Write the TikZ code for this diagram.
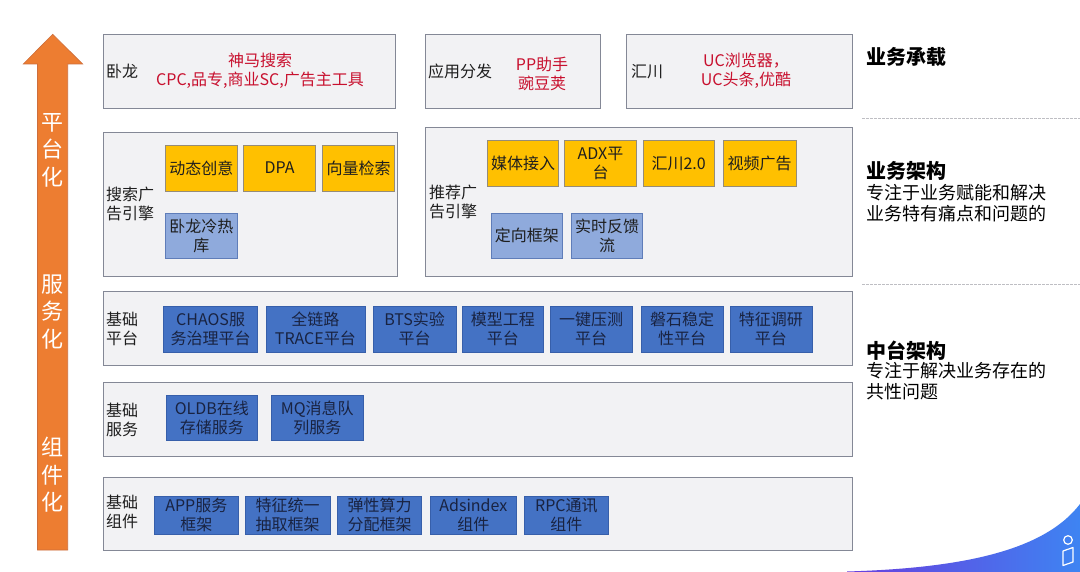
\documentclass[tikz,border=0pt]{standalone}
\usepackage{fontspec}
\setmainfont{Noto Sans CJK SC}
\definecolor{gfill}{RGB}{242,242,244}
\definecolor{gborder}{RGB}{132,136,150}
\definecolor{yel}{RGB}{255,192,0}
\definecolor{yelb}{RGB}{150,140,120}
\definecolor{dblue}{RGB}{68,114,196}
\definecolor{dblueb}{RGB}{55,95,170}
\definecolor{lblue}{RGB}{143,170,220}
\definecolor{lblueb}{RGB}{95,125,185}
\definecolor{redt}{RGB}{200,16,46}
\definecolor{txt}{RGB}{30,30,30}
\definecolor{navy}{RGB}{25,35,65}
\definecolor{orng}{RGB}{237,125,49}
\definecolor{orngb}{RGB}{205,110,60}
\definecolor{dashc}{RGB}{190,190,195}
\definecolor{swl}{RGB}{104,62,222}
\definecolor{swr}{RGB}{62,132,242}
\begin{document}
\begin{tikzpicture}[x=1pt,y=-1pt,
  cont/.style={draw=gborder, fill=gfill, line width=0.8pt, inner sep=0pt},
  ybox/.style={draw=yelb, fill=yel, line width=0.6pt, inner sep=1pt, align=center, text=txt, font=\fontsize{16}{19}\selectfont},
  lbbox/.style={draw=lblueb, fill=lblue, line width=0.6pt, inner sep=1pt, align=center, text=txt, font=\fontsize{16}{19}\selectfont},
  dbbox/.style={draw=dblueb, fill=dblue, line width=0.6pt, inner sep=1pt, align=center, text=navy, font=\fontsize{16}{19}\selectfont},
  lab/.style={anchor=west, inner sep=0pt, align=left, text=txt, font=\fontsize{16}{19}\selectfont},
  redtxt/.style={inner sep=0pt, align=center, text=redt, font=\fontsize{16}{19}\selectfont},
  arrtxt/.style={inner sep=0pt, align=center, text=white, font=\fontsize{22}{27.5}\selectfont},
  head/.style={anchor=west, inner sep=0pt, text=black, font=\fontsize{20}{24}\selectfont\bfseries},
  desc/.style={anchor=north west, inner sep=0pt, align=left, text=black, font=\fontsize{18}{21.5}\selectfont},
  sepline/.style={dashc, line width=1pt, dash pattern=on 2.5pt off 1.5pt}]
\useasboundingbox (0,0) rectangle (1080,572);
\fill[white] (0,0) rectangle (1080,572);

% left arrow
\filldraw[fill=orng, draw=orngb, line width=0.6pt]
  (52.7,34.3) -- (82.7,64) -- (67.7,64) -- (67.7,550) -- (37.5,550) -- (37.5,64) -- (23.3,64) -- cycle;
\node[arrtxt] (t1) at (52.7,150) {平\\台\\化};
\node[arrtxt] (t2) at (52.7,312) {服\\务\\化};
\node[arrtxt] (t3) at (52.7,475) {组\\件\\化};

% row 1
\node[cont, minimum width=292pt, minimum height=74pt] (A) at (249,71) {};
\node[cont, minimum width=175pt, minimum height=74pt] (B) at (512.5,71) {};
\node[cont, minimum width=226pt, minimum height=74pt] (C) at (739,71) {};
\node[lab] (Al) at (106,71.5) {卧龙};
\node[lab] (Bl) at (428,71.5) {应用分发};
\node[lab] (Cl) at (631,71.5) {汇川};
\node[redtxt] (Ar) at (260,71) {神马搜索\\CPC,品专,商业SC,广告主工具};
\node[redtxt] (Br) at (542,73.5) {PP助手\\豌豆荚};
\node[redtxt] (Cr) at (746,70.5) {UC浏览器，\\UC头条,优酷};

% row 2
\node[cont, minimum width=294pt, minimum height=144pt] (D) at (250,204) {};
\node[cont, minimum width=427pt, minimum height=149pt] (E) at (638.5,201.5) {};
\node[lab] (Dl) at (106,203.5) {搜索广\\告引擎};
\node[lab] (El) at (429,201.5) {推荐广\\告引擎};
\node[ybox, minimum width=72.6pt, minimum height=45.7pt] (d1) at (201.3,168) {动态创意};
\node[ybox, minimum width=72.3pt, minimum height=45.7pt] (d2) at (279.6,168) {DPA};
\node[ybox, minimum width=71.6pt, minimum height=45.7pt] (d3) at (358.5,168) {向量检索};
\node[lbbox, minimum width=72.6pt, minimum height=45pt] (d4) at (201.3,235.8) {卧龙冷热\\库};
\node[ybox, minimum width=70.7pt, minimum height=45.3pt] (e1) at (523,163.3) {媒体接入};
\node[ybox, minimum width=71.5pt, minimum height=45.3pt] (e2) at (600.5,163.3) {ADX平\\台};
\node[ybox, minimum width=71.6pt, minimum height=45.3pt] (e3) at (678.6,163.3) {汇川2.0};
\node[ybox, minimum width=73pt, minimum height=45.3pt] (e4) at (759.5,163.3) {视频广告};
\node[lbbox, minimum width=71.6pt, minimum height=45pt] (e5) at (526.8,235.8) {定向框架};
\node[lbbox, minimum width=71.5pt, minimum height=45pt] (e6) at (607,235.8) {实时反馈\\流};

% row 3
\node[cont, minimum width=749pt, minimum height=74pt] (F) at (477.5,328) {};
\node[lab] (Fl) at (106,329) {基础\\平台};
\node[dbbox, minimum width=94pt, minimum height=46.7pt] (f1) at (210.6,329.3) {CHAOS服\\务治理平台};
\node[dbbox, minimum width=99.2pt, minimum height=46.7pt] (f2) at (315.4,329.3) {全链路\\TRACE平台};
\node[dbbox, minimum width=83.3pt, minimum height=46.7pt] (f3) at (414.6,329.3) {BTS实验\\平台};
\node[dbbox, minimum width=81.6pt, minimum height=46.7pt] (f4) at (502.8,329.3) {模型工程\\平台};
\node[dbbox, minimum width=81.4pt, minimum height=46.7pt] (f5) at (591.1,329.3) {一键压测\\平台};
\node[dbbox, minimum width=81.5pt, minimum height=46.7pt] (f6) at (682.1,329.3) {磐石稳定\\性平台};
\node[dbbox, minimum width=81.8pt, minimum height=46.7pt] (f7) at (770.9,329.3) {特征调研\\平台};

% row 4
\node[cont, minimum width=749pt, minimum height=74pt] (G) at (477.5,419) {};
\node[lab] (Gl) at (106,419.5) {基础\\服务};
\node[dbbox, minimum width=91.6pt, minimum height=45.7pt] (g1) at (211.8,417.8) {OLDB在线\\存储服务};
\node[dbbox, minimum width=92.6pt, minimum height=45.7pt] (g2) at (317.3,417.8) {MQ消息队\\列服务};

% row 5
\node[cont, minimum width=749pt, minimum height=73pt] (H) at (477.5,513.5) {};
\node[lab] (Hl) at (106,512.2) {基础\\组件};
\node[dbbox, minimum width=84.6pt, minimum height=37.3pt] (h1) at (196.3,515.3) {APP服务\\框架};
\node[dbbox, minimum width=85pt, minimum height=37.3pt] (h2) at (287.5,515.3) {特征统一\\抽取框架};
\node[dbbox, minimum width=84.3pt, minimum height=37.3pt] (h3) at (379.6,515.3) {弹性算力\\分配框架};
\node[dbbox, minimum width=86.1pt, minimum height=37.3pt] (h4) at (473.4,515.3) {Adsindex\\组件};
\node[dbbox, minimum width=84.3pt, minimum height=37.3pt] (h5) at (566.4,515.3) {RPC通讯\\组件};

% right side
\coordinate (s1a) at (862,119);
\coordinate (s1b) at (1080,119);
\coordinate (s2a) at (862,285);
\coordinate (s2b) at (1080,285);
\draw[sepline] (s1a) -- (s1b);
\draw[sepline] (s2a) -- (s2b);
\node[head] (r1) at (866,57) {业务承载};
\node[head] (r2) at (866,170.7) {业务架构};
\node[desc] (r2d) at (866,184) {专注于业务赋能和解决\\业务特有痛点和问题的};
\node[head] (r3) at (866,351) {中台架构};
\node[desc] (r3d) at (866,362) {专注于解决业务存在的\\共性问题};

% bottom-right swoosh
\shade[left color=swl, right color=swr]
  (847,571.5) .. controls (965,568) and (1045,550) .. (1080,504) -- (1080,572) -- (847,572) -- cycle;
\draw[white, line width=1.2pt] (1068,540) circle (4.3);
\draw[white, line width=1.2pt, line join=round] (1063,551) -- (1073,547.5) -- (1073,562) -- (1063,565.5) -- cycle;
\end{tikzpicture}
\end{document}
